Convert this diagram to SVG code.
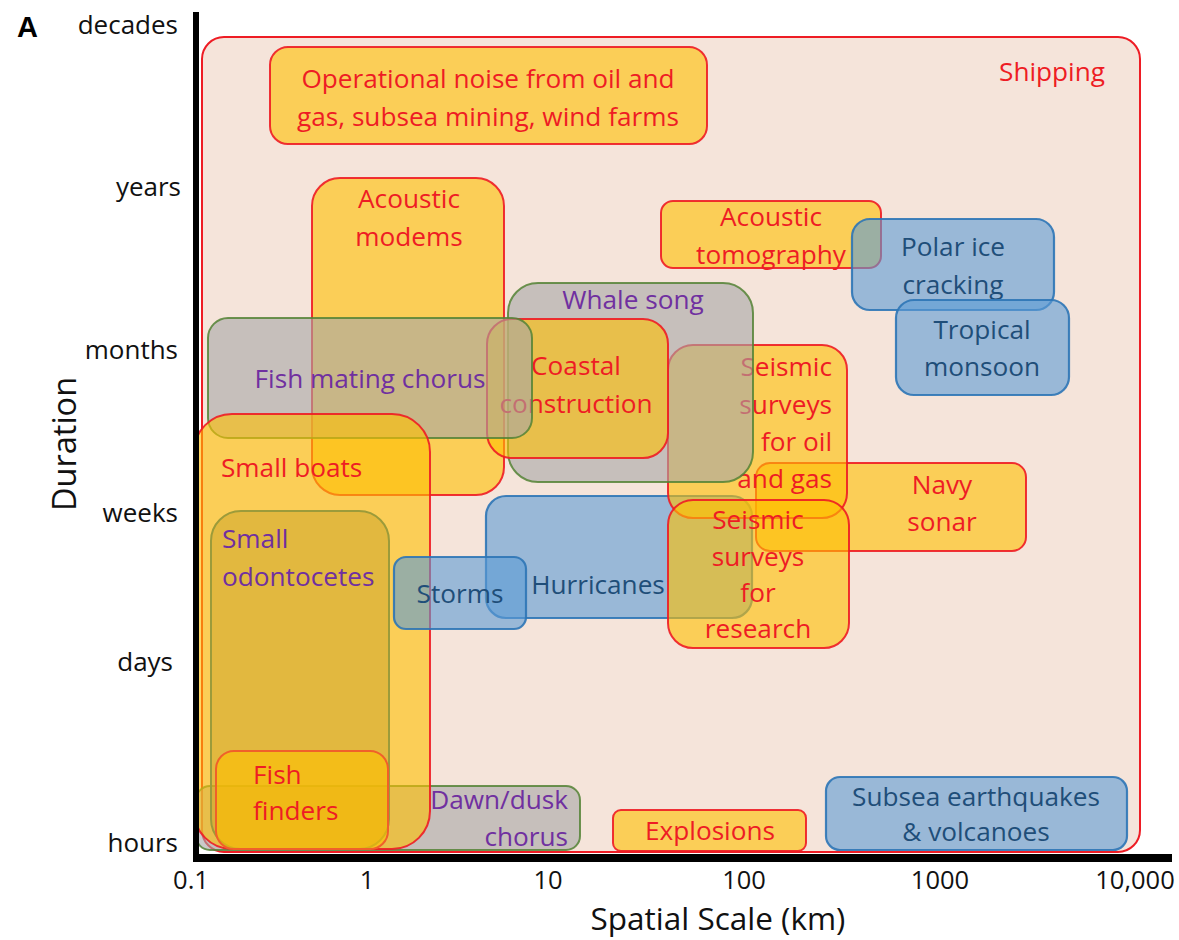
<svg xmlns="http://www.w3.org/2000/svg" width="1179" height="940" viewBox="0 0 1179 940">
<style>
text{font-family:"Open Sans","Noto Sans","Liberation Sans",sans-serif;font-size:26.2px}
.r{fill:#EE1C24}.p{fill:#7030A0}.b{fill:#1F4E79}.k{fill:#111;font-size:26px}
.x{font-size:25.5px}
.o{fill:#FFC000;fill-opacity:.6;stroke:#EE1C24;stroke-width:2;stroke-opacity:.9}
.g{fill:#A6A6A6;fill-opacity:.6;stroke:#548235;stroke-width:2;stroke-opacity:.85}
.bl{fill:#5B9BD5;fill-opacity:.6;stroke:#2E75B6;stroke-width:2.2;stroke-opacity:.9}
.m{text-anchor:middle}.e{text-anchor:end}
</style>
<rect width="1179" height="940" fill="#fff"/>
<g id="shipping"><rect x="202" y="37" width="938" height="815" rx="22" fill="#F5E4DA" stroke="#EE1C24" stroke-width="2"/><text class="r m" x="1052" y="81">Shipping</text></g>
<g id="operational"><rect class="o" x="270" y="47" width="437" height="97" rx="18"/><text class="r m" x="488" y="88">Operational noise from oil and</text><text class="r m" x="488" y="126">gas, subsea mining, wind farms</text></g>
<g id="modems"><rect class="o" x="312" y="178" width="192" height="317" rx="28"/><text class="r m" x="409" y="208">Acoustic</text><text class="r m" x="409" y="246">modems</text></g>
<g id="tomography"><rect class="o" x="661" y="201" width="220" height="67" rx="12"/><text class="r m" x="771" y="226">Acoustic</text><text class="r m" x="771" y="264">tomography</text></g>
<g id="polar"><rect class="bl" x="852" y="219" width="202" height="91" rx="18"/><text class="b m" x="953" y="256">Polar ice</text><text class="b m" x="953" y="294">cracking</text></g>
<g id="tropical"><rect class="bl" x="896" y="300" width="173" height="95" rx="18"/><text class="b m" x="982" y="339">Tropical</text><text class="b m" x="982" y="376">monsoon</text></g>
<g id="hurricanes"><rect class="bl" x="486" y="496" width="266" height="122" rx="20"/><text class="b m" x="598" y="594">Hurricanes</text></g>
<g id="navy"><rect class="o" x="756" y="463" width="270" height="88" rx="14"/><text class="r m" x="942" y="494">Navy</text><text class="r m" x="942" y="531">sonar</text></g>
<g id="seismic-oil"><rect class="o" x="668" y="345" width="179" height="173" rx="25"/><text class="r e" x="832" y="376">Seismic</text><text class="r e" x="832" y="414">surveys</text><text class="r e" x="832" y="451">for oil</text><text class="r e" x="832" y="488">and gas</text></g>
<g id="seismic-research"><rect class="o" x="668" y="500" width="181" height="148" rx="25"/><text class="r m" x="758" y="529">Seismic</text><text class="r m" x="758" y="566">surveys</text><text class="r m" x="758" y="602">for</text><text class="r m" x="758" y="638">research</text></g>
<g id="whale"><rect class="g" x="508" y="283" width="245" height="199" rx="30"/><text class="p m" x="633" y="309">Whale song</text></g>
<g id="coastal"><rect class="o" x="487" y="319" width="181" height="139" rx="25"/><text class="r m" x="576" y="375">Coastal</text><text class="r m" x="576" y="413">construction</text></g>
<g id="dawn"><rect class="g" x="196" y="786" width="384" height="64" rx="14"/><text class="p e" x="568" y="809">Dawn/dusk</text><text class="p e" x="568" y="846">chorus</text></g>
<g id="fish-mating"><rect class="g" x="208" y="318" width="324" height="120" rx="20"/><text class="p m" x="370" y="388">Fish mating chorus</text></g>
<g id="small-boats"><rect class="o" x="194" y="414" width="236" height="435" rx="38"/><text class="r" x="221" y="477">Small boats</text></g>
<g id="storms"><rect class="bl" x="394" y="557" width="132" height="72" rx="12"/><text class="b m" x="460" y="603">Storms</text></g>
<g id="odontocetes"><rect x="211" y="511" width="178" height="338" rx="30" fill="#C9A227" fill-opacity=".5" stroke="#9C9B3A" stroke-width="2"/><text class="p" x="222" y="548">Small</text><text class="p" x="222" y="586">odontocetes</text></g>
<g id="fish-finders"><rect x="216" y="751" width="172" height="98" rx="18" fill="#FFC000" fill-opacity=".6" stroke="#F0602A" stroke-width="2"/><text class="r" x="253" y="784">Fish</text><text class="r" x="253" y="820">finders</text></g>
<g id="explosions"><rect class="o" x="613" y="810" width="193" height="41" rx="8"/><text class="r m" x="710" y="840">Explosions</text></g>
<g id="subsea"><rect class="bl" x="826" y="777" width="301" height="73" rx="14"/><text class="b m" x="976" y="806">Subsea earthquakes</text><text class="b m" x="976" y="841">&amp; volcanoes</text></g>
<g id="axes">
<rect x="193" y="12" width="6" height="850" fill="#000"/>
<rect x="193" y="854" width="979" height="8" fill="#000"/>
<text x="17" y="37" style="font-family:'Liberation Sans',sans-serif;font-weight:bold;font-size:29px" fill="#000">A</text>
<text class="k e" x="178" y="34">decades</text>
<text class="k e" x="181" y="196">years</text>
<text class="k e" x="178" y="359">months</text>
<text class="k e" x="178" y="522">weeks</text>
<text class="k e" x="173" y="671">days</text>
<text class="k e" x="178" y="852">hours</text>
<text class="k m x" x="191" y="889">0.1</text>
<text class="k m x" x="367" y="889">1</text>
<text class="k m x" x="548" y="889">10</text>
<text class="k m x" x="744" y="889">100</text>
<text class="k m x" x="940" y="889">1000</text>
<text class="k m x" x="1135" y="889">10,000</text>
<text class="k m" x="718" y="930" style="font-size:31.5px">Spatial Scale (km)</text>
<text class="k m" transform="translate(76,444) rotate(-90)" style="font-size:32.5px">Duration</text>
</g>
</svg>
